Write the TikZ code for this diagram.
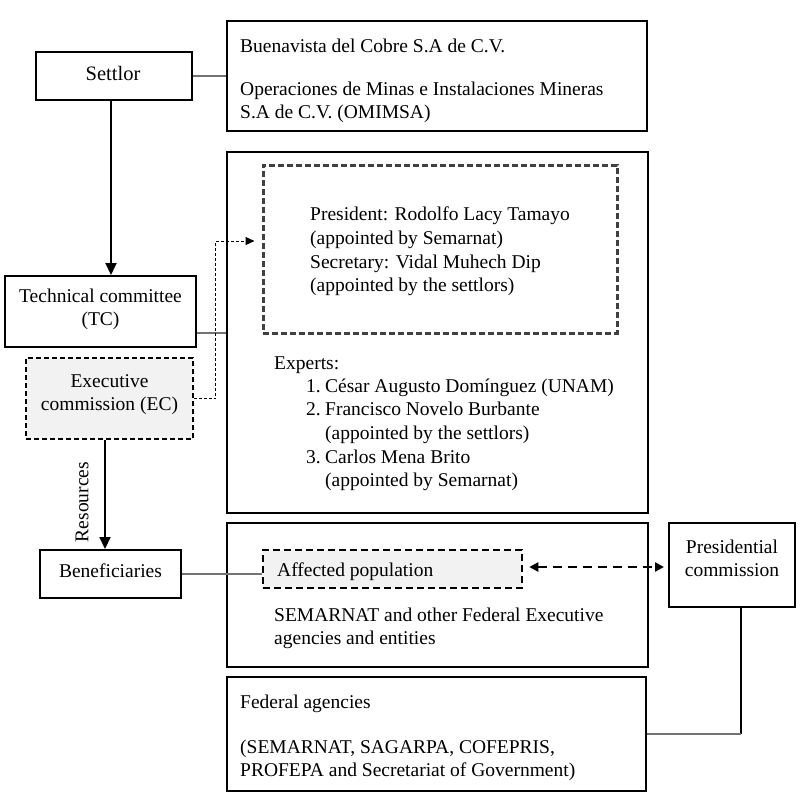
\documentclass[tikz,border=0pt]{standalone}
\usepackage{fontspec}
\setmainfont{Liberation Serif}
\usetikzlibrary{arrows.meta,calc}
\newcommand\diagfs{\fontsize{19.5pt}{23.5pt}\selectfont}
\begin{document}
\begin{tikzpicture}[x=1pt,y=-1pt,
  box/.style={draw, line width=2pt, inner sep=0pt, align=center, font=\diagfs},
  dbox/.style={draw=black!75, line width=3pt, dash pattern=on 6pt off 3pt, inner sep=0pt},
  ecbox/.style={draw, line width=1.5pt, dash pattern=on 5pt off 3pt, fill=black!5, inner sep=0pt},
  afbox/.style={draw, line width=2.5pt, dash pattern=on 7pt off 4pt, fill=black!5, inner sep=0pt},
  conn/.style={draw=black!55, line width=1.5pt},
  arr/.style={draw, line width=2pt, -{Triangle[length=12pt,width=11pt]}},
  ecconn/.style={draw, line width=1pt, dash pattern=on 3pt off 2pt, -{Triangle[length=9pt,width=8pt]}},
  dblarr/.style={draw, line width=2.5pt, dash pattern=on 9pt off 6pt, {Triangle[length=9pt,width=9pt]}-{Triangle[length=9pt,width=9pt]}},
  txt/.style={anchor=base west, inner sep=0pt, font=\diagfs},
  ctxt/.style={anchor=base, inner sep=0pt, font=\diagfs}]
\useasboundingbox (0,0) rectangle (808,801);
\fill[white] (0,0) rectangle (808,801);

% boxes
\node[box, minimum width=156pt, minimum height=48pt] (settlor) at (114,76) {};
\node[box, minimum width=420pt, minimum height=110pt] (buen) at (437,76) {};
\node[box, minimum width=191pt, minimum height=71pt] (tc) at (100.5,311.5) {};
\node[ecbox, minimum width=167pt, minimum height=81pt] (ec) at (109.5,398.5) {};
\node[box, minimum width=421pt, minimum height=361pt] (board) at (437.5,332.5) {};
\node[dbox, minimum width=354pt, minimum height=168pt] (inner) at (440,249) {};
\node[box, minimum width=141pt, minimum height=48pt] (benef) at (110.5,574) {};
\node[box, minimum width=421pt, minimum height=144pt] (agen) at (437.5,595) {};
\node[afbox, minimum width=259pt, minimum height=38pt] (affected) at (392.5,569) {};
\node[box, minimum width=126pt, minimum height=84pt] (pres) at (732,565) {};
\node[box, minimum width=419pt, minimum height=114pt] (federal) at (436.5,734) {};

% texts
\node[ctxt, font=\fontsize{20.5pt}{24pt}\selectfont] (st) at (113,80) {Settlor};
\node[txt] (b1) at (240,52) {Buenavista del Cobre S.A de C.V.};
\node[txt] (b2) at (240,95) {Operaciones de Minas e Instalaciones Mineras};
\node[txt] (b3) at (240,118) {S.A de C.V. (OMIMSA)};

\node[ctxt] (tc1) at (100.5,302) {Technical committee};
\node[ctxt] (tc2) at (100.5,325) {(TC)};

\node[ctxt] (ec1) at (109.5,387) {Executive};
\node[ctxt] (ec2) at (109.5,410) {commission (EC)};

\node[txt] (p1) at (310,220) {President: Rodolfo Lacy Tamayo};
\node[txt] (p2) at (310,244) {(appointed by Semarnat)};
\node[txt] (p3) at (310,268) {Secretary: Vidal Muhech Dip};
\node[txt] (p4) at (310,291) {(appointed by the settlors)};

\node[txt] (ex) at (274,369) {Experts:};
\node[txt] (n1) at (306,392) {1.};
\node[txt] (e1) at (325,392) {César Augusto Domínguez (UNAM)};
\node[txt] (n2) at (306,415) {2.};
\node[txt] (e2) at (325,415) {Francisco Novelo Burbante};
\node[txt] (e2b) at (325,439) {(appointed by the settlors)};
\node[txt] (n3) at (306,463) {3.};
\node[txt] (e3) at (325,463) {Carlos Mena Brito};
\node[txt] (e3b) at (325,486) {(appointed by Semarnat)};

\node[rotate=90, inner sep=0pt, font=\diagfs] (res) at (82,502) {Resources};

\node[ctxt] (bn) at (110.5,577) {Beneficiaries};
\node[txt] (af) at (277,576) {Affected population};
\node[txt] (s1) at (274,621) {SEMARNAT and other Federal Executive};
\node[txt] (s2) at (274,644) {agencies and entities};

\node[ctxt] (pr1) at (732,553) {Presidential};
\node[ctxt] (pr2) at (732,576) {commission};

\node[txt] (f1) at (240,708) {Federal agencies};
\node[txt] (f2) at (240,753) {(SEMARNAT, SAGARPA, COFEPRIS,};
\node[txt] (f3) at (240,776) {PROFEPA and Secretariat of Government)};

% connectors
\draw[conn] (settlor.east) -- (buen.west);
\draw[arr] ([xshift=-3pt]settlor.south) -- ([xshift=-3pt]settlor.south |- tc.north);
\draw[conn] ([yshift=15pt]tc.south east) -- ([yshift=15pt]tc.south east -| board.west);
\draw[ecconn, shorten >=7pt] (ec.east) -- ++(22,0) |- ([yshift=8pt]inner.west);
\draw[arr] ([xshift=-4.5pt]ec.south) -- ([xshift=-4.5pt]ec.south |- benef.north);
\draw[conn] (benef.east) -- (benef.east -| affected.west);
\draw[dblarr, shorten <=6pt, shorten >=4pt] ([yshift=2pt]affected.east) -- ([yshift=2pt]affected.east -| pres.west);
\coordinate (corner) at ([xshift=9pt]pres.south |- federal.east);
\draw[line width=1.2pt] ([xshift=9pt]pres.south) -- (corner);
\draw[conn] (corner) -- (federal.east);
\end{tikzpicture}
\end{document}
